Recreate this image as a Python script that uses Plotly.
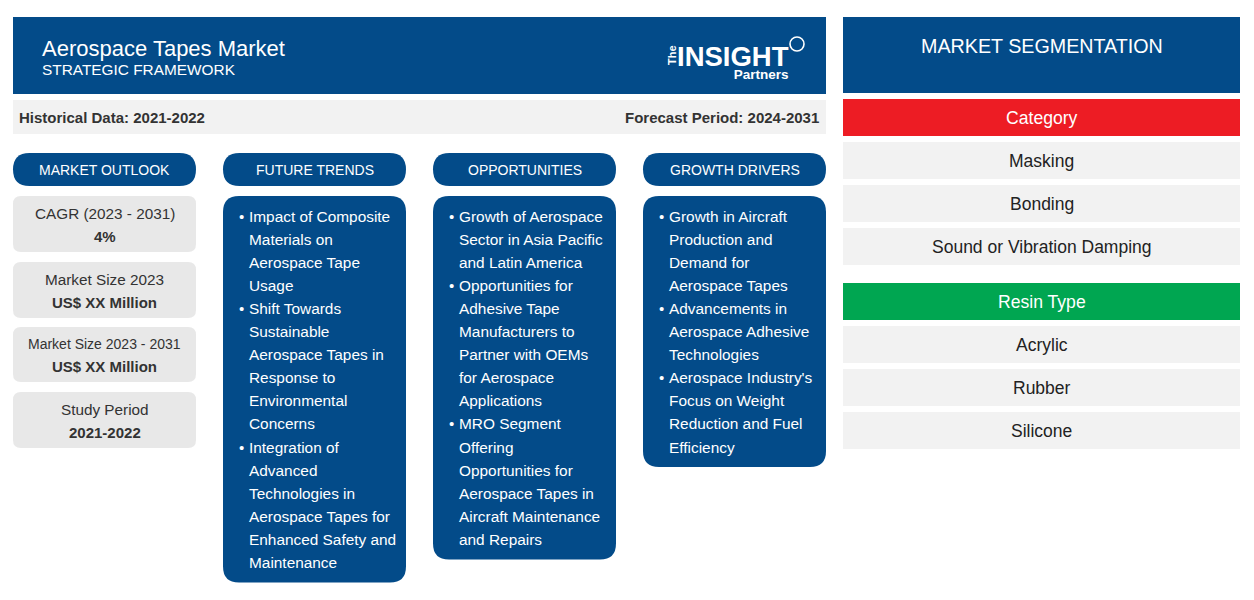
import plotly.graph_objects as go

# ---------------- data ----------------
title = "Aerospace Tapes Market"
subtitle = "STRATEGIC FRAMEWORK"
historical = "Historical Data: 2021-2022"
forecast = "Forecast Period: 2024-2031"

section_heads = ["MARKET OUTLOOK", "FUTURE TRENDS", "OPPORTUNITIES", "GROWTH DRIVERS"]

outlook_labels = ["CAGR (2023 - 2031)", "Market Size 2023", "Market Size 2023 - 2031", "Study Period"]
outlook_values = ["4%", "US$ XX Million", "US$ XX Million", "2021-2022"]

future_trends = [
    ["Impact of Composite", "Materials on", "Aerospace Tape", "Usage"],
    ["Shift Towards", "Sustainable", "Aerospace Tapes in", "Response to", "Environmental", "Concerns"],
    ["Integration of", "Advanced", "Technologies in", "Aerospace Tapes for", "Enhanced Safety and", "Maintenance"],
]
opportunities = [
    ["Growth of Aerospace", "Sector in Asia Pacific", "and Latin America"],
    ["Opportunities for", "Adhesive Tape", "Manufacturers to", "Partner with OEMs", "for Aerospace", "Applications"],
    ["MRO Segment", "Offering", "Opportunities for", "Aerospace Tapes in", "Aircraft Maintenance", "and Repairs"],
]
growth_drivers = [
    ["Growth in Aircraft", "Production and", "Demand for", "Aerospace Tapes"],
    ["Advancements in", "Aerospace Adhesive", "Technologies"],
    ["Aerospace Industry's", "Focus on Weight", "Reduction and Fuel", "Efficiency"],
]

seg_title = "MARKET SEGMENTATION"
seg_groups = ["Category", "Resin Type"]
seg_items = [["Masking", "Bonding", "Sound or Vibration Damping"],
             ["Acrylic", "Rubber", "Silicone"]]

# ---------------- style ----------------
BLUE = "#034b89"
RED = "#ed1c24"
GREEN = "#00a651"
LGRAY = "#e8e8e8"
SGRAY = "#f2f2f2"
FONT = "Liberation Sans, Arial, sans-serif"

shapes = []
annotations = []


def rrect(x0, y0, x1, y1, r, color):
    p = (f"M {x0+r},{y0} L {x1-r},{y0} Q {x1},{y0} {x1},{y0+r} "
         f"L {x1},{y1-r} Q {x1},{y1} {x1-r},{y1} L {x0+r},{y1} "
         f"Q {x0},{y1} {x0},{y1-r} L {x0},{y0+r} Q {x0},{y0} {x0+r},{y0} Z")
    shapes.append(dict(type="path", path=p, xref="x", yref="y",
                       fillcolor=color, line=dict(width=0), layer="below"))


def rect(x0, y0, x1, y1, color):
    shapes.append(dict(type="rect", x0=x0, y0=y0, x1=x1, y1=y1, xref="x", yref="y",
                       fillcolor=color, line=dict(width=0), layer="below"))


def text(x, y, s, size, color, anchor="center", bold=False, angle=0, align="center"):
    if bold:
        s = f"<b>{s}</b>"
    annotations.append(dict(x=x, y=y, xref="x", yref="y", text=s, showarrow=False,
                            xanchor=anchor, yanchor="middle", textangle=angle, align=align,
                            borderpad=0, borderwidth=0,
                            font=dict(family=FONT, size=size, color=color)))


# header
rect(13, 17, 826, 94, BLUE)
text(42, 48, title, 22, "white", "left")
text(42, 69, subtitle, 15.4, "white", "left")
# logo
text(672, 55, "The", 11, "white", "center", bold=True, angle=-90)
text(789, 61,
     "<span style='font-size:27.5px'><b>INSIGHT</b></span><br>"
     "<span style='font-size:13.5px'><b>Partners</b></span>",
     10, "white", "right", align="right")
shapes.append(dict(type="circle", x0=790, y0=37, x1=804, y1=51, xref="x", yref="y",
                   line=dict(color="white", width=1.6)))

# period bar
rect(13, 100, 826, 134, SGRAY)
text(19, 117, historical, 15, "#333333", "left", bold=True)
text(819, 117, forecast, 15, "#333333", "right", bold=True)

# section heads
col_x = [13, 223, 433, 643]
col_w = 183
for cx, head in zip(col_x, section_heads):
    rrect(cx, 153, cx + col_w, 186, 16.5, BLUE)
    text(cx + col_w / 2, 170, head, 14, "white")

# outlook boxes
box_y = [(196, 252), (262, 318), (327, 382), (392, 448)]
for (y0, y1), lab, val in zip(box_y, outlook_labels, outlook_values):
    rrect(13, y0, 196, y1, 8, LGRAY)
    cy = (y0 + y1) / 2
    size = 14 if len(lab) > 20 else 15.3
    text(104.5, cy - 11, lab, size, "#333333")
    text(104.5, cy + 12, val, 15, "#333333", bold=True)

# bullet columns
LINE = 23.1
for cx, items in zip(col_x[1:], [future_trends, opportunities, growth_drivers]):
    n = sum(len(it) for it in items)
    y_top = 196
    y_bot = 216 + (n - 1) * LINE + 20
    rrect(cx, y_top, cx + col_w, y_bot, 16, BLUE)
    y = 216
    for it in items:
        text(cx + 18, y, "•", 15, "white", "center")
        for ln in it:
            text(cx + 26, y, ln, 15.4, "white", "left")
            y += LINE

# segmentation
rect(843, 17, 1240, 93, BLUE)
text(1041.5, 46, seg_title, 19.7, "white")
seg_colors = [RED, GREEN]
y = 99
for g, col, items in zip(seg_groups, seg_colors, seg_items):
    rect(843, y, 1240, y + 37, col)
    text(1041.5, y + 18.5, g, 17.6, "white")
    y += 43
    for it in items:
        rect(843, y, 1240, y + 37, SGRAY)
        text(1041.5, y + 18.5, it, 17.5, "#222222")
        y += 43
    y += 12

# page body has an 8px margin: shift the coordinate frame so pixel positions match
OFF = 8
W, H = 1254 - 2 * OFF, 600 - 2 * OFF
fig = go.Figure()
fig.update_layout(
    width=W, height=H,
    margin=dict(l=0, r=0, t=0, b=0),
    paper_bgcolor="white", plot_bgcolor="white",
    xaxis=dict(range=[OFF, OFF + W], visible=False, fixedrange=True),
    yaxis=dict(range=[OFF + H, OFF], visible=False, fixedrange=True),
    shapes=shapes, annotations=annotations,
    showlegend=False,
)
fig.write_html("out.html")
